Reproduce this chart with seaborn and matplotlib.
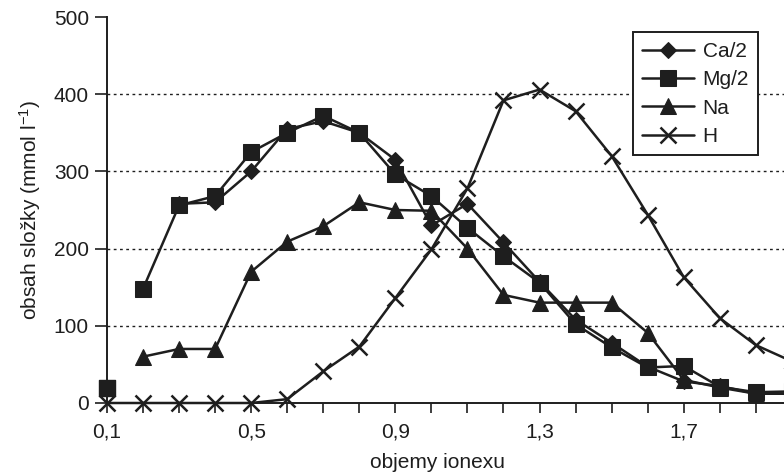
import numpy as np
import pandas as pd
import matplotlib
matplotlib.use("Agg")
import matplotlib.pyplot as plt
import seaborn as sns

# ---- data ----
x_all = [0.1, 0.2, 0.3, 0.4, 0.5, 0.6, 0.7, 0.8, 0.9, 1.0,
         1.1, 1.2, 1.3, 1.4, 1.5, 1.6, 1.7, 1.8, 1.9, 2.0]

ca_x = x_all[2:]
ca = [258, 260, 300, 355, 365, 350, 315, 230, 258, 208, 157, 108, 78, 47, 28, 22, 12, 12]

mg_first_x = [0.1]
mg_first = [20]
mg_x = x_all[1:]
mg = [148, 256, 268, 325, 350, 372, 350, 296, 268, 227, 190, 156, 102, 72, 46, 48, 21, 14, 15]

na_x = x_all[1:]
na = [60, 70, 70, 170, 209, 229, 260, 250, 249, 200, 140, 130, 130, 130, 91, 30, 20, 12, 12]

h_x = x_all
h = [0, 0, 0, 0, 0, 5, 41, 73, 136, 199, 278, 392, 406, 378, 320, 244, 163, 110, 75, 54]

series_names = ["Ca/2", "Mg/2", "Na", "H"]

xtick_vals = x_all
xtick_labels = ["0,1", "", "", "", "0,5", "", "", "", "0,9", "",
                "", "", "1,3", "", "", "", "1,7", "", "", ""]
ytick_vals = [0, 100, 200, 300, 400, 500]
grid_vals = [100, 200, 300, 400]

# ---- style ----
sns.set_theme(style="white")
plt.rcParams["font.family"] = ["Liberation Sans", "DejaVu Sans"]
plt.rcParams["mathtext.fontset"] = "custom"
plt.rcParams["mathtext.rm"] = "Liberation Sans"
plt.rcParams["mathtext.it"] = "Liberation Sans"
plt.rcParams["mathtext.bf"] = "Liberation Sans"

ink = "#1e1e1e"
lw = 1.8
fs = 15

fig = plt.figure(figsize=(7.84, 4.75), dpi=100)
ax_w_px = 784 - 107 + 7.84
ax = fig.add_axes([107 / 784, 1 - 403 / 475, ax_w_px / 784, (403 - 17) / 475])

for gv in grid_vals:
    ax.axhline(gv, color=ink, lw=1.0, ls=(0, (2, 2.5)), zorder=0)

sns.lineplot(x=ca_x, y=ca, ax=ax, color=ink, lw=lw, marker="D", markersize=8,
             markeredgecolor=ink, markerfacecolor=ink, label=series_names[0], clip_on=False)
sns.lineplot(x=mg_x, y=mg, ax=ax, color=ink, lw=lw, marker="s", markersize=11.5,
             markeredgecolor=ink, markerfacecolor=ink, label=series_names[1], clip_on=False)
sns.scatterplot(x=mg_first_x, y=mg_first, ax=ax, color=ink, marker="s", s=132,
                edgecolor=ink, linewidth=1, legend=False, clip_on=False, zorder=3)
sns.lineplot(x=na_x, y=na, ax=ax, color=ink, lw=lw, marker="^", markersize=11.5,
             markeredgecolor=ink, markerfacecolor=ink, label=series_names[2], clip_on=False)
sns.lineplot(x=h_x, y=h, ax=ax, color=ink, lw=lw, marker="x", markersize=12,
             markeredgewidth=1.8, markeredgecolor=ink, label=series_names[3], clip_on=False)

ax.set_xlim(0.1, 2.0)
ax.set_ylim(0, 500)
ax.set_xticks(xtick_vals)
ax.set_xticklabels(xtick_labels)
ax.set_yticks(ytick_vals)
ax.set_yticklabels([str(v) for v in ytick_vals])

for s in ["top", "right"]:
    ax.spines[s].set_visible(False)
for s in ["left", "bottom"]:
    ax.spines[s].set_color(ink)
    ax.spines[s].set_linewidth(1.4)

ax.tick_params(axis="both", direction="out", width=1.2, color=ink,
               labelsize=fs, labelcolor=ink, bottom=True, left=True)
ax.tick_params(axis="y", length=8.5, pad=4.5)
ax.tick_params(axis="x", length=7.2, pad=6.5)

ax.set_xlabel("objemy ionexu", fontsize=fs, color=ink)
ax.set_ylabel("obsah složky (mmol l$^{\\mathregular{-1}}$)", fontsize=fs, color=ink)
ax.xaxis.set_label_coords((437 - 107) / ax_w_px, -0.13)
ax.yaxis.set_label_coords(-(107 - 43) / ax_w_px, 0.5)

leg = ax.legend(loc="upper left", bbox_to_anchor=(0.768, 0.96), borderaxespad=0,
                fontsize=fs, frameon=True, fancybox=False, framealpha=1,
                edgecolor=ink, handlelength=2.5, handletextpad=0.4,
                labelspacing=0.45, borderpad=0.45)
leg.get_frame().set_linewidth(1.4)
for t in leg.get_texts():
    t.set_color(ink)

fig.savefig("out.png", dpi=100)
